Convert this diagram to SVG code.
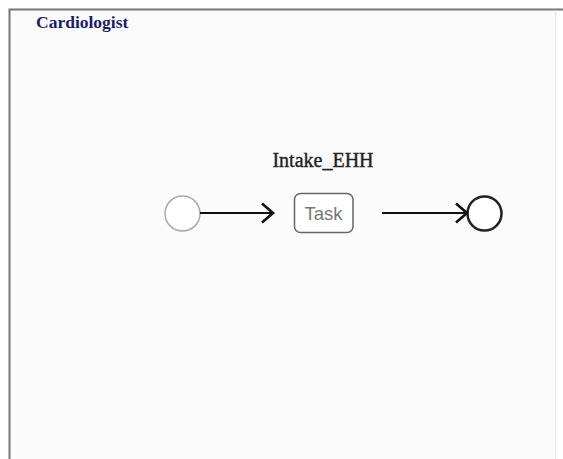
<svg xmlns="http://www.w3.org/2000/svg" width="563" height="459" viewBox="0 0 563 459">
  <style>
    .lane { fill: #fbfbfb; stroke: none; }
    .frame { stroke: #777; stroke-width: 2; fill: none; }
    .lane-title { font-family: "Liberation Serif", serif; font-weight: bold; font-size: 17.5px; fill: #1c1c6a; }
    .label { font-family: "Liberation Serif", serif; font-size: 20px; fill: #222; stroke: #222; stroke-width: 0.4; }
    .task-text { font-family: "Liberation Sans", Arial, sans-serif; font-size: 18.5px; fill: #777; }
    .flow { stroke: #111; stroke-width: 2.2; fill: none; }
  </style>
  <defs>
    <marker id="arrow" viewBox="0 0 14 22" refX="12.5" refY="11" markerWidth="14" markerHeight="22" markerUnits="userSpaceOnUse" orient="auto">
      <path d="M1.5,1.5 L12.5,11 L1.5,20.5" fill="none" stroke="#111" stroke-width="2.6"/>
    </marker>
  </defs>
  <rect x="0" y="0" width="563" height="459" fill="#ffffff"/>
  <rect class="lane" x="9" y="9" width="546" height="450"/>
  <path class="frame" d="M9.5,459 L9.5,9.5 L563,9.5"/>
  <line x1="555.5" y1="10" x2="555.5" y2="459" stroke="#e4e4e4" stroke-width="1"/>
  <text class="lane-title" x="36" y="28">Cardiologist</text>

  <g id="start">
    <circle cx="182.5" cy="213.5" r="17.5" fill="#fff" stroke="#aaa" stroke-width="1.5"/>
  </g>

  <g id="intake">
    <text class="label" x="323" y="167" text-anchor="middle">Intake_EHH</text>
    <rect x="294.5" y="193.5" width="58.5" height="39" rx="6" ry="6" fill="#fff" stroke="#666" stroke-width="1.5"/>
    <text class="task-text" x="323.5" y="219.5" text-anchor="middle">Task</text>
  </g>

  <g id="end">
    <circle cx="484.5" cy="213.5" r="17" fill="#fff" stroke="#222" stroke-width="2.5"/>
  </g>

  <g id="connectors">
    <line class="flow" x1="200" y1="213" x2="273" y2="213" marker-end="url(#arrow)"/>
    <line class="flow" x1="382" y1="213" x2="467" y2="213" marker-end="url(#arrow)"/>
  </g>
</svg>
